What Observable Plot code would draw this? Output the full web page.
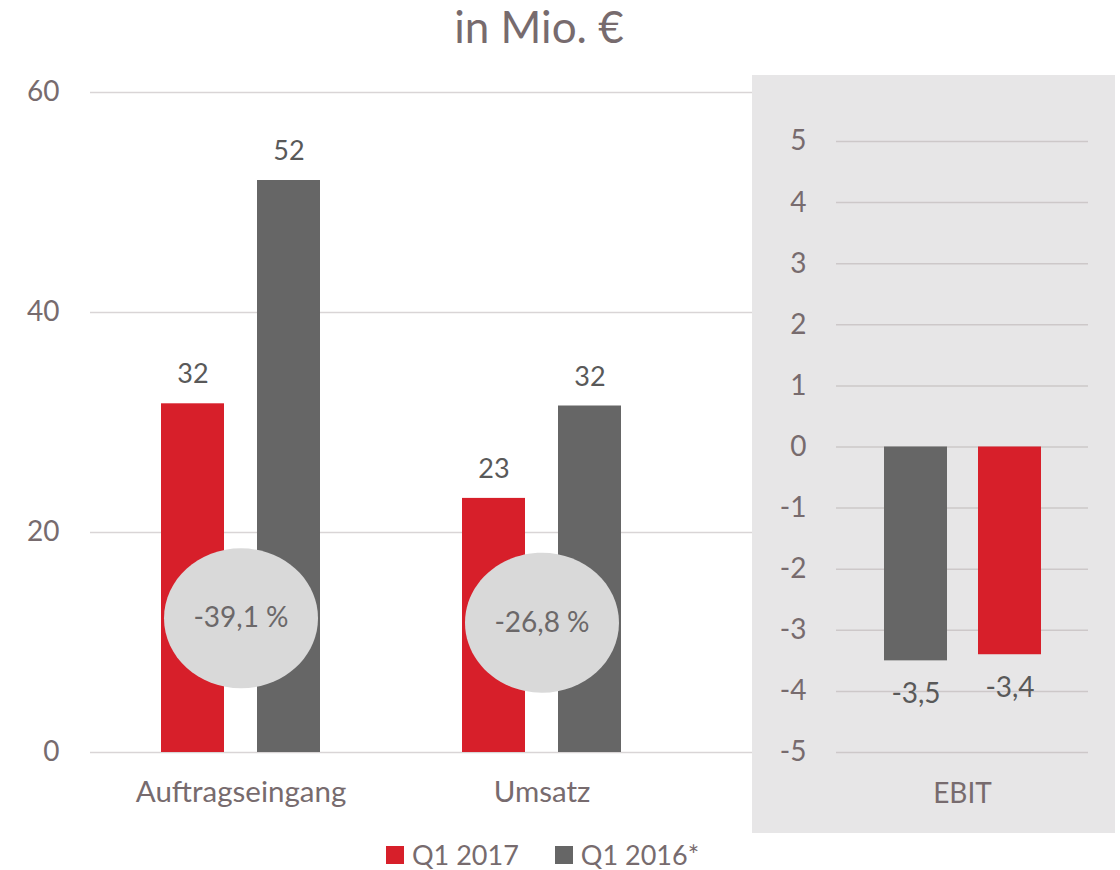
<!DOCTYPE html>
<html>
<head>
<meta charset="utf-8">
<script src="https://cdn.jsdelivr.net/npm/d3@7"></script>
<script src="https://cdn.jsdelivr.net/npm/@observablehq/plot@0.6"></script>
<style>
  html, body { margin: 0; padding: 0; background: #ffffff; }
  #root { position: relative; width: 1120px; height: 870px; font-family: Lato, "Open Sans", sans-serif; overflow: hidden; }
  #title { position: absolute; left: 0; top: 0px; width: 1078px; text-align: center; font-size: 44px; line-height: 1.2; color: #776b6e; }
  .layer { position: absolute; }
  #legend { position: absolute; left: 386px; top: 838px; }
  .lg-swatches { font-family: Lato, sans-serif !important; font-size: 27px !important; color: #776b6e !important; margin: 0 !important; min-height: 0 !important; }
  .lg-swatch { margin-right: 36px !important; }
  .lg-swatch > svg { margin-right: 8px !important; }
</style>
</head>
<body>
<div id="root">
  <div id="title">in Mio. €</div>
</div>
<script>
// ---- data ----
const categories = ["Auftragseingang", "Umsatz"];
const series = ["Q1 2017", "Q1 2016*"];
const seriesColors = ["#d71f2a", "#666666"];
const valuesQ1_2017 = [31.7, 23.1];
const valuesQ1_2016 = [52.0, 31.5];
const changeLabels = ["-39,1 %", "-26,8 %"];
const changeLabelY = [12.2, 11.8];
const leftTicks = [0, 20, 40, 60];

const ebitCategory = ["EBIT"];
const ebitSeries = ["Q1 2016*", "Q1 2017"];
const ebitValues = [-3.5, -3.4];
const rightTicks = [-5, -4, -3, -2, -1, 0, 1, 2, 3, 4, 5];

// ---- derived tables ----
const leftData = [];
categories.forEach((c, i) => {
  leftData.push({cat: c, series: series[0], value: valuesQ1_2017[i]});
  leftData.push({cat: c, series: series[1], value: valuesQ1_2016[i]});
});
const changeData = categories.map((c, i) => ({cat: c, label: changeLabels[i], y: changeLabelY[i]}));
const ebitData = ebitSeries.map((s, i) => ({cat: ebitCategory[0], series: s, value: ebitValues[i]}));

const commaFmt = (v, digits) => v.toFixed(digits).replace(".", ",");
const textColor = "#776b6e";
const colorScale = {domain: series, range: seriesColors};

// custom ellipse symbol (wider than tall)
const ellipseSymbol = {
  draw(ctx, size) {
    const r = Math.sqrt(size / Math.PI);
    const rx = r * 1.1, ry = r, k = 0.5522847498;
    ctx.moveTo(rx, 0);
    ctx.bezierCurveTo(rx, ry * k, rx * k, ry, 0, ry);
    ctx.bezierCurveTo(-rx * k, ry, -rx, ry * k, -rx, 0);
    ctx.bezierCurveTo(-rx, -ry * k, -rx * k, -ry, 0, -ry);
    ctx.bezierCurveTo(rx * k, -ry, rx, -ry * k, rx, 0);
    ctx.closePath();
  }
};

const root = document.getElementById("root");
function place(node, left, top) {
  node.classList.add("layer");
  node.style.left = left + "px";
  node.style.top = top + "px";
  root.appendChild(node);
}

const baseStyle = {fontFamily: "Lato, sans-serif", fontSize: "28px", color: textColor, background: "transparent", overflow: "visible"};

// Layer A: left grid + y axis
const gridA = Plot.plot({
  width: 752, height: 830,
  marginLeft: 90, marginRight: 0, marginTop: 92, marginBottom: 78,
  style: baseStyle,
  y: {domain: [0, 60], ticks: leftTicks, tickSize: 0, tickPadding: 31, label: null, tickFormat: d => String(d)},
  marks: [
    Plot.ruleY(leftTicks, {stroke: "#d9d5d6", strokeWidth: 1.5})
  ]
});
place(gridA, 0, 0);

// Layer B: left bars
const barsB = Plot.plot({
  width: 752, height: 830,
  marginLeft: 90, marginRight: 60, marginTop: 92, marginBottom: 78,
  style: {...baseStyle, fontSize: "29.5px"},
  fx: {domain: categories, padding: 0, label: null, tickSize: 0, tickPadding: 29, axis: "bottom"},
  x: {domain: series, paddingInner: 0.347, paddingOuter: 0.733, axis: null},
  y: {domain: [0, 60], axis: null},
  color: colorScale,
  marks: [
    Plot.barY(leftData, {fx: "cat", x: "series", y: "value", fill: "series"}),
    Plot.text(leftData, {fx: "cat", x: "series", y: "value", text: d => commaFmt(d.value, 0), dy: -29, fill: "#595959", fontSize: 27}),
    Plot.dot(changeData, {fx: "cat", y: "y", r: 70, symbol: ellipseSymbol, fill: "#d9d9d9", stroke: "none"}),
    Plot.text(changeData, {fx: "cat", y: "y", text: "label", fill: "#6b6869", fontSize: 28})
  ]
});
place(barsB, 0, 0);

// Right panel: EBIT
const ebit = Plot.plot({
  width: 363, height: 758,
  marginLeft: 84, marginRight: 27, marginTop: 66, marginBottom: 81,
  style: {...baseStyle, background: "#e7e6e7"},
  fx: {domain: ebitCategory, padding: 0, label: null, tickSize: 0, tickPadding: 31, axis: "bottom"},
  x: {domain: ebitSeries, paddingInner: 0.333, paddingOuter: 0.5, axis: null},
  y: {domain: [-5, 5], ticks: rightTicks, tickSize: 0, tickPadding: 30, label: null, tickFormat: d => String(d)},
  color: colorScale,
  marks: [
    Plot.ruleY(rightTicks, {stroke: "#cdc8c9", strokeWidth: 1.5}),
    Plot.barY(ebitData, {fx: "cat", x: "series", y: "value", fill: "series"}),
    Plot.text(ebitData, {fx: "cat", x: "series", y: "value", text: d => commaFmt(d.value, 1), dy: 33, fill: "#595959", fontSize: 28})
  ]
});
place(ebit, 752, 75);

// Legend
const legend = Plot.legend({color: colorScale, swatchSize: 18, className: "lg"});
const legendWrap = document.createElement("div");
legendWrap.id = "legend";
legendWrap.appendChild(legend);
root.appendChild(legendWrap);
</script>
</body>
</html>
